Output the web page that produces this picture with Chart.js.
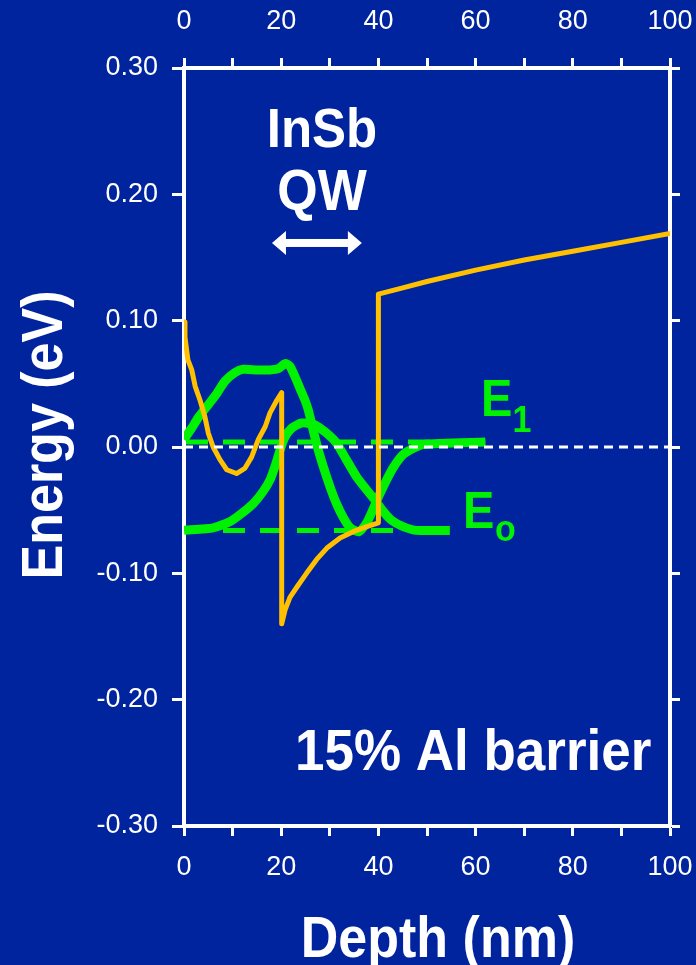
<!DOCTYPE html>
<html>
<head>
<meta charset="utf-8">
<script src="https://cdn.jsdelivr.net/npm/chart.js@4.4.1/dist/chart.umd.min.js"></script>
<style>
  html, body { margin: 0; padding: 0; background: #00239e; overflow: hidden; }
  canvas { display: block; }
</style>
</head>
<body>
<canvas id="c" width="696" height="965"></canvas>
<script>
// Conduction band edge through the InSb quantum well (depth in nm, energy in eV)
const cbDepth  = [0, 0.2, 0.8, 1.6, 2.3, 3.3, 4.3, 5.0, 6.0, 7.4, 8.8, 10.8, 12.5, 13.9, 15.3, 16.7, 17.7, 19.1, 20.1,
                  20.1, 20.8, 21.8, 23.2, 25.2, 27.3, 29.4, 32.1, 34.8, 37.6, 40.0,
                  40.0, 45, 50, 60, 70, 80, 90, 100];
const cbEnergy = [0.099, 0.087, 0.069, 0.061, 0.048, 0.037, 0.024, 0.011, 0.000, -0.010, -0.018, -0.021, -0.017, -0.008, 0.006, 0.016, 0.027, 0.037, 0.043,
                  -0.140, -0.129, -0.119, -0.111, -0.100, -0.089, -0.080, -0.072, -0.067, -0.063, -0.060,
                  0.121, 0.126, 0.131, 0.140, 0.148, 0.155, 0.162, 0.169];

// First excited state: wavefunction drawn on top of its level E1
const e1Depth  = [0, 1.6, 2.9, 4.7, 6.7, 8.4, 10.5, 12.2, 15.0, 17.7, 19.4, 20.8, 21.8, 22.8, 23.9, 24.9, 25.6, 26.6, 27.6, 28.7,
                  30.0, 31.4, 32.8, 34.2, 36.0, 37.6, 38.6, 39.6, 41.7, 43.1, 45.1, 47.2, 49.2, 62];
const e1Energy = [0.006, 0.015, 0.023, 0.032, 0.042, 0.052, 0.059, 0.0615, 0.061, 0.061, 0.062, 0.066, 0.064, 0.056, 0.046, 0.037, 0.029, 0.013, -0.002, -0.016,
                  -0.031, -0.045, -0.056, -0.064, -0.067, -0.060, -0.052, -0.043, -0.026, -0.016, -0.006, -0.001, 0.002, 0.004];

// Ground state: wavefunction drawn on top of its level E0
const e0Depth  = [0, 6.0, 9.5, 11.9, 14.3, 16.3, 17.7, 18.7, 19.8, 20.8, 22.2, 24.2, 26.6, 29.0, 31.4, 33.4, 35.5, 37.6, 39.3,
                  41.0, 42.7, 45.1, 47.9, 54.7];
const e0Energy = [-0.066, -0.064, -0.059, -0.0525, -0.0446, -0.035, -0.026, -0.0156, -0.002, 0.008, 0.015, 0.019, 0.018, 0.012, 0.003, -0.010, -0.0235, -0.034, -0.042,
                  -0.051, -0.058, -0.063, -0.066, -0.066];

// Subband levels (eV) and the depth range they are drawn over (nm)
const levelE1 = 0.004;
const levelE0 = -0.066;
const levelE1Span = [0, 62];
const levelE0Span = [0, 54];

// Fermi level reference and axis labelling
const zeroSpan = [0, 100];
const depthLabels = ['0', '20', '40', '60', '80', '100'];
const energyLabels = ['-0.30', '-0.20', '-0.10', '0.00', '0.10', '0.20', '0.30'];

const pts = (xs, ys) => xs.map((x, i) => ({ x: x, y: ys[i] }));
const flat = (span, v) => span.map(x => ({ x: x, y: v }));

const WHITE = '#ffffff';
const GREEN = '#00f200';
const ORANGE = '#ffc000';
const FAMILY = '"Liberation Sans", Arial, sans-serif';
const TICK_FONT = { family: FAMILY, size: 27 };

function depthLabel(v) {
  const s = String(Math.round(v));
  return depthLabels.includes(s) && Math.abs(v - Math.round(v)) < 1e-6 ? s : '';
}
function energyLabel(v) {
  const s = (Math.abs(v) < 1e-9 ? 0 : v).toFixed(2);
  return energyLabels.includes(s) ? s : '';
}

// Text annotations anchored in data coordinates
const notes = [
  { text: 'InSb', x: 28.4, y: 0.2375, size: 51, align: 'center', color: WHITE },
  { text: 'QW', x: 28.4, y: 0.1876, size: 52, align: 'center', color: WHITE },
  { text: 'E', x: 61.1, y: 0.0245, size: 47, align: 'left', color: GREEN },
  { text: '1', x: 67.6, y: 0.012, size: 34, align: 'left', color: GREEN },
  { text: 'E', x: 57.4, y: -0.064, size: 47, align: 'left', color: GREEN },
  { text: 'o', x: 64.0, y: -0.0744, size: 34, align: 'left', color: GREEN },
  { text: '15% Al barrier', x: 59.5, y: -0.2557, size: 53, align: 'center', color: WHITE }
];
const wellArrow = { from: 18.1, to: 36.6, y: 0.1615 };

function stretchedText(ctx, text, x, y, size, align, color, rot) {
  ctx.save();
  ctx.translate(x, y);
  if (rot) ctx.rotate(rot);
  ctx.scale(1, 1.1);
  ctx.font = 'bold ' + size + 'px ' + FAMILY;
  ctx.fillStyle = color;
  ctx.textAlign = align;
  ctx.textBaseline = 'alphabetic';
  ctx.fillText(text, 0, 0);
  ctx.restore();
}

const annotations = {
  id: 'annotations',
  afterDraw(chart) {
    const { ctx, chartArea: a, scales } = chart;
    const xs = scales.x, ys = scales.y;
    notes.forEach(n => stretchedText(ctx, n.text, xs.getPixelForValue(n.x), ys.getPixelForValue(n.y), n.size, n.align, n.color));

    // double-headed arrow spanning the well
    const x1 = xs.getPixelForValue(wellArrow.from), x2 = xs.getPixelForValue(wellArrow.to);
    const y = ys.getPixelForValue(wellArrow.y);
    const head = 14, half = 12, shaft = 4;
    ctx.save();
    ctx.fillStyle = WHITE;
    ctx.fillRect(x1 + head - 1, y - shaft, x2 - x1 - 2 * head + 2, shaft * 2);
    ctx.beginPath();
    ctx.moveTo(x1, y); ctx.lineTo(x1 + head, y - half); ctx.lineTo(x1 + head, y + half); ctx.closePath();
    ctx.moveTo(x2, y); ctx.lineTo(x2 - head, y - half); ctx.lineTo(x2 - head, y + half); ctx.closePath();
    ctx.fill();
    ctx.restore();

    // axis titles
    stretchedText(ctx, 'Depth (nm)', (a.left + a.right) / 2 + 11, a.bottom + 131, 52, 'center', WHITE);
    stretchedText(ctx, 'Energy (eV)', 62, (a.top + a.bottom) / 2 - 12, 52, 'center', WHITE, -Math.PI / 2);
  }
};

const lineBase = { pointRadius: 0, fill: false, borderJoinStyle: 'round', borderCapStyle: 'butt' };

new Chart(document.getElementById('c'), {
  type: 'line',
  data: {
    datasets: [
      { ...lineBase, label: 'zero', data: flat(zeroSpan, 0), borderColor: WHITE, borderWidth: 3, borderDash: [9, 6], tension: 0 },
      { ...lineBase, label: 'Conduction band', data: pts(cbDepth, cbEnergy), borderColor: ORANGE, borderWidth: 5, tension: 0 },
      { ...lineBase, label: 'E1 wavefunction', data: pts(e1Depth, e1Energy), borderColor: GREEN, borderWidth: 9, tension: 0.2 },
      { ...lineBase, label: 'E0 wavefunction', data: pts(e0Depth, e0Energy), borderColor: GREEN, borderWidth: 9, tension: 0.2 },
      { ...lineBase, label: 'E1', data: flat(levelE1Span, levelE1), borderColor: GREEN, borderWidth: 5, borderDash: [22, 15], borderDashOffset: -2, tension: 0 },
      { ...lineBase, label: 'E0', data: flat(levelE0Span, levelE0), borderColor: GREEN, borderWidth: 5, borderDash: [22, 15], borderDashOffset: -2, tension: 0 }
    ]
  },
  options: {
    responsive: false,
    animation: false,
    devicePixelRatio: 1,
    layout: { padding: 0 },
    plugins: { legend: { display: false }, tooltip: { enabled: false }, title: { display: false } },
    scales: {
      x: {
        type: 'linear', position: 'bottom', min: 0, max: 100,
        afterFit: s => { s.height = 139; },
        border: { display: true, color: WHITE, width: 4 },
        grid: { drawOnChartArea: false, drawTicks: true, tickLength: 10, tickWidth: 3, tickColor: WHITE },
        ticks: { stepSize: 10, autoSkip: false, maxRotation: 0, padding: 0, color: WHITE,
                 font: { family: FAMILY, size: 27, lineHeight: 2.37 }, callback: depthLabel }
      },
      x2: {
        type: 'linear', position: 'top', min: 0, max: 100,
        afterFit: s => { s.height = 68; },
        border: { display: true, color: WHITE, width: 4 },
        grid: { drawOnChartArea: false, drawTicks: true, tickLength: 10, tickWidth: 3, tickColor: WHITE },
        ticks: { stepSize: 10, autoSkip: false, maxRotation: 0, padding: 0, color: WHITE,
                 font: { family: FAMILY, size: 27, lineHeight: 2.67 }, callback: depthLabel }
      },
      y: {
        type: 'linear', position: 'left', min: -0.3, max: 0.3,
        afterFit: s => { s.width = 184; },
        border: { display: true, color: WHITE, width: 4 },
        grid: { drawOnChartArea: false, drawTicks: true, tickLength: 12, tickWidth: 3, tickColor: WHITE },
        ticks: { stepSize: 0.1, autoSkip: false, padding: 14, color: WHITE, font: TICK_FONT, callback: energyLabel }
      },
      y2: {
        type: 'linear', position: 'right', min: -0.3, max: 0.3,
        afterFit: s => { s.width = 26; },
        border: { display: true, color: WHITE, width: 4 },
        grid: { drawOnChartArea: false, drawTicks: true, tickLength: 10, tickWidth: 3, tickColor: WHITE },
        ticks: { stepSize: 0.1, autoSkip: false, padding: 0, color: 'rgba(0,0,0,0)', font: { size: 1 }, callback: () => '' }
      }
    }
  },
  plugins: [annotations]
});
</script>
</body>
</html>
